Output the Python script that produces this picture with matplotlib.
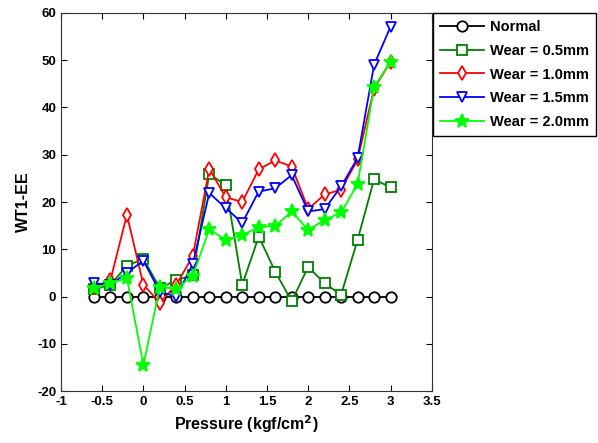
import matplotlib
matplotlib.use('Agg')
import matplotlib.pyplot as plt
from matplotlib.ticker import FuncFormatter

plt.rcParams['font.family'] = ['Liberation Sans', 'DejaVu Sans']
plt.rcParams['font.weight'] = 'bold'
plt.rcParams['axes.unicode_minus'] = False

pressure = [-0.6, -0.4, -0.2, 0.0, 0.2, 0.4, 0.6, 0.8, 1.0, 1.2,
            1.4, 1.6, 1.8, 2.0, 2.2, 2.4, 2.6, 2.8, 3.0]

normal = [0] * len(pressure)
wear_05 = [1.5, 2.5, 6.5, 8.0, 1.8, 3.5, 4.5, 26.0, 23.5, 2.5,
           12.7, 5.3, -1.0, 6.3, 2.8, 0.4, 12.0, 24.8, 23.1]
wear_10 = [2.0, 3.5, 17.3, 2.5, -1.3, 2.5, 8.6, 27.0, 21.0, 20.0,
           26.9, 28.8, 27.5, 18.5, 21.6, 22.6, 29.0, 44.0, 49.7]
wear_15 = [2.8, 2.5, 5.0, 7.6, 1.0, 0.0, 6.9, 21.9, 18.7, 15.6,
           22.2, 22.9, 25.7, 18.0, 18.5, 23.3, 29.3, 49.0, 57.1]
wear_20 = [1.8, 2.8, 3.9, -14.4, 2.0, 1.6, 4.4, 14.2, 12.0, 13.0,
           14.7, 14.9, 18.0, 14.1, 16.2, 17.8, 23.8, 44.3, 49.7]

series = [
    ('Normal', normal, 'black', 'o', 'white'),
    ('Wear = 0.5mm', wear_05, '#008000', 's', 'white'),
    ('Wear = 1.0mm', wear_10, '#ff0000', 'd', 'white'),
    ('Wear = 1.5mm', wear_15, '#0000ff', 'v', 'white'),
    ('Wear = 2.0mm', wear_20, '#00ff00', '*', '#00ff00'),
]

fig = plt.figure(figsize=(5.98, 4.43), dpi=100)
ax = fig.add_axes([0.102, 0.117, 0.62, 0.854])

for label, vals, color, marker, face in series:
    ms = 10 if marker == '*' else 7.5
    ax.plot(pressure, vals, color=color, marker=marker, markerfacecolor=face,
            markeredgecolor=color, markersize=ms, linewidth=1.3,
            markeredgewidth=1.3, label=label)

ax.set_xlim(-1, 3.5)
ax.set_ylim(-20, 60)
ax.set_xticks([-1, -0.5, 0, 0.5, 1, 1.5, 2, 2.5, 3, 3.5])
ax.set_yticks(range(-20, 61, 10))
ax.xaxis.set_major_formatter(FuncFormatter(lambda v, p: '%g' % v))
ax.tick_params(direction='in', top=True, right=True, labelsize=9.5, length=4)
for s in ax.spines.values():
    s.set_color('#333333')

ax.set_xlabel('Pressure (kgf/cm$^\\mathbf{2}$)', fontsize=11.5, fontweight='bold')
ax.set_ylabel('WT1-EE', fontsize=11.5, fontweight='bold')

leg = fig.legend(loc='upper left', bbox_to_anchor=(433 / 598, 1 - 13 / 443),
                 fontsize=10.5, frameon=True, fancybox=False, framealpha=1,
                 edgecolor='black', handlelength=3, labelspacing=0.66,
                 borderpad=0.5, handletextpad=0.4, borderaxespad=0)
leg.get_frame().set_linewidth(1.0)

fig.savefig('out.png', dpi=100)
